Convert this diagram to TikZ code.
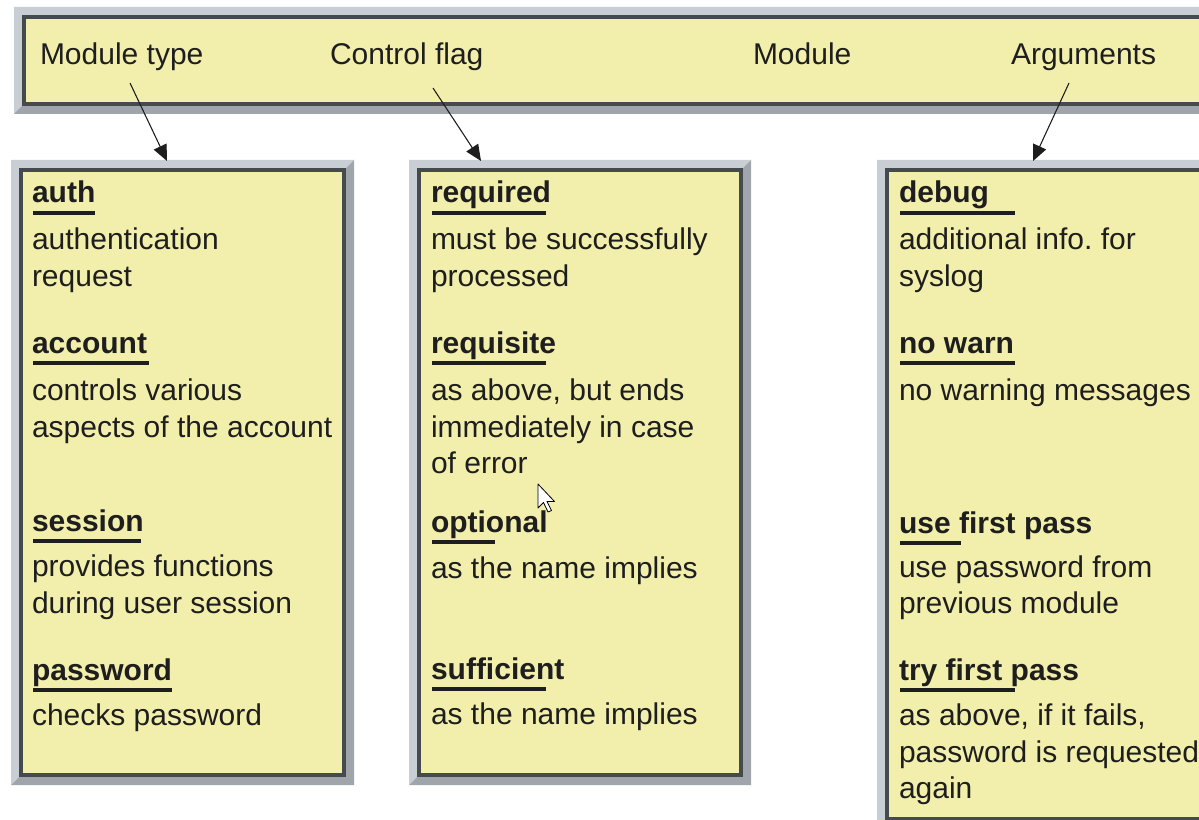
\documentclass[tikz,border=0pt]{standalone}
\usepackage{fontspec}
\setmainfont{Liberation Sans}
\frenchspacing
\usetikzlibrary{arrows.meta,calc,fit,backgrounds}
\definecolor{panelfill}{HTML}{F2EFAC}
\definecolor{panelline}{HTML}{454B4D}
\definecolor{bevellight}{HTML}{C9CED4}
\definecolor{beveldark}{HTML}{A0A4AB}
\definecolor{ink}{HTML}{1E1E1E}
% raised frame drawn around a panel node
\newcommand\bevel[1]{%
  \fill[bevellight] ($(#1.south west)+(-10,10)$) -- ($(#1.north west)+(-10,-10)$)
    -- ($(#1.north east)+(10,-10)$) -- (#1.north east) -- (#1.north west)
    -- (#1.south west) -- cycle;
  \fill[beveldark] ($(#1.north east)+(10,-10)$) -- ($(#1.south east)+(10,10)$)
    -- ($(#1.south west)+(-10,10)$) -- (#1.south west) -- (#1.south east)
    -- (#1.north east) -- cycle;}
% bar under a heading, of a given length
\newcommand\headrule[2]{\fill[ink] ($(#1.base west)+(1,8)$) rectangle ($(#1.base west)+(#2,12)$);}
\begin{document}
\begin{tikzpicture}[x=0.75pt,y=-0.75pt,
  panel/.style={draw=panelline,fill=panelfill,line width=3pt,inner sep=0pt,outer sep=0pt,rectangle},
  txt/.style={anchor=base west,inner sep=0pt,outer sep=0pt,text=ink,font=\fontsize{22.5}{26}\selectfont},
  hd/.style={txt,font=\fontsize{22.5}{26}\selectfont\bfseries},
  pointer/.style={-{Triangle[length=12pt,width=10.5pt]},line width=0.8pt,draw=ink,fill=ink}]
\useasboundingbox (0,0) rectangle (1199,820);

% panels
\node[panel,fit={(24,17)(1215,104)}] (bar) {};
\node[panel,fit={(21,170)(344,775)}] (b1) {};
\node[panel,fit={(419,170)(741,775)}] (b2) {};
\node[panel,fit={(887,170)(1215,819)}] (b3) {};
\begin{scope}[on background layer]
  \bevel{bar}\bevel{b1}\bevel{b2}\bevel{b3}
\end{scope}

% header labels
\node[txt] (mt)  at (40,65)   {Module type};
\node[txt] (cf)  at (330,65)  {Control flag};
\node[txt] (mod) at (753,65)  {Module};
\node[txt] (arg) at (1011,65) {Arguments};

% connectors
\draw[pointer] ($(mt.base west)+(90,18)$)  -- ($(b1.north west)+(146,-9)$);
\draw[pointer] ($(cf.base west)+(103,23)$) -- ($(b2.north west)+(62,-9)$);
\draw[pointer] ($(arg.base west)+(58,18)$) -- ($(b3.north west)+(146,-9)$);

% module types
\node[hd]  (h11) at (32,203) {auth};            \headrule{h11}{63}
\node[txt] (t11a) at (32,249) {authentication};
\node[txt] (t11b) at (32,286) {request};
\node[hd]  (h12) at (32,353) {account};         \headrule{h12}{117}
\node[txt] (t12a) at (32,400) {controls various};
\node[txt] (t12b) at (32,437) {aspects of the account};
\node[hd]  (h13) at (32,531) {session};         \headrule{h13}{109}
\node[txt] (t13a) at (32,576) {provides functions};
\node[txt] (t13b) at (32,613) {during user session};
\node[hd]  (h14) at (32,680) {password};        \headrule{h14}{140}
\node[txt] (t14a) at (32,725) {checks password};

% control flags
\node[hd]  (h21) at (431,203) {required};       \headrule{h21}{115}
\node[txt] (t21a) at (431,249) {must be successfully};
\node[txt] (t21b) at (431,286) {processed};
\node[hd]  (h22) at (431,353) {requisite};      \headrule{h22}{115}
\node[txt] (t22a) at (431,400) {as above, but ends};
\node[txt] (t22b) at (431,437) {immediately in case};
\node[txt] (t22c) at (431,473) {of error};
\node[hd]  (h23) at (431,532) {optional};       \headrule{h23}{64}
\node[txt] (t23a) at (431,578) {as the name implies};
\node[hd]  (h24) at (431,679) {sufficient};     \headrule{h24}{115}
\node[txt] (t24a) at (431,724) {as the name implies};

% arguments
\node[hd]  (h31) at (899,203) {debug};          \headrule{h31}{116}
\node[txt] (t31a) at (899,249) {additional info. for};
\node[txt] (t31b) at (899,286) {syslog};
\node[hd]  (h32) at (899,353) {no warn};        \headrule{h32}{116}
\node[txt] (t32a) at (899,400) {no warning messages};
\node[hd]  (h33) at (899,533) {use first pass}; \headrule{h33}{62}
\node[txt] (t33a) at (899,577) {use password from};
\node[txt] (t33b) at (899,613) {previous module};
\node[hd]  (h34) at (899,680) {try first pass}; \headrule{h34}{116}
\node[txt] (t34a) at (899,725) {as above, if it fails,};
\node[txt] (t34b) at (899,762) {password is requested};
\node[txt] (t34c) at (899,798) {again};

% mouse pointer
\draw[fill=white,draw=black,line width=0.6pt,line join=round]
  (538,484) -- ++(0,24) -- ++(5.5,-5.5) -- ++(4.5,9.5) -- ++(3.5,-1.5)
  -- ++(-4.5,-9) -- ++(7.5,0) -- cycle;
\end{tikzpicture}
\end{document}
